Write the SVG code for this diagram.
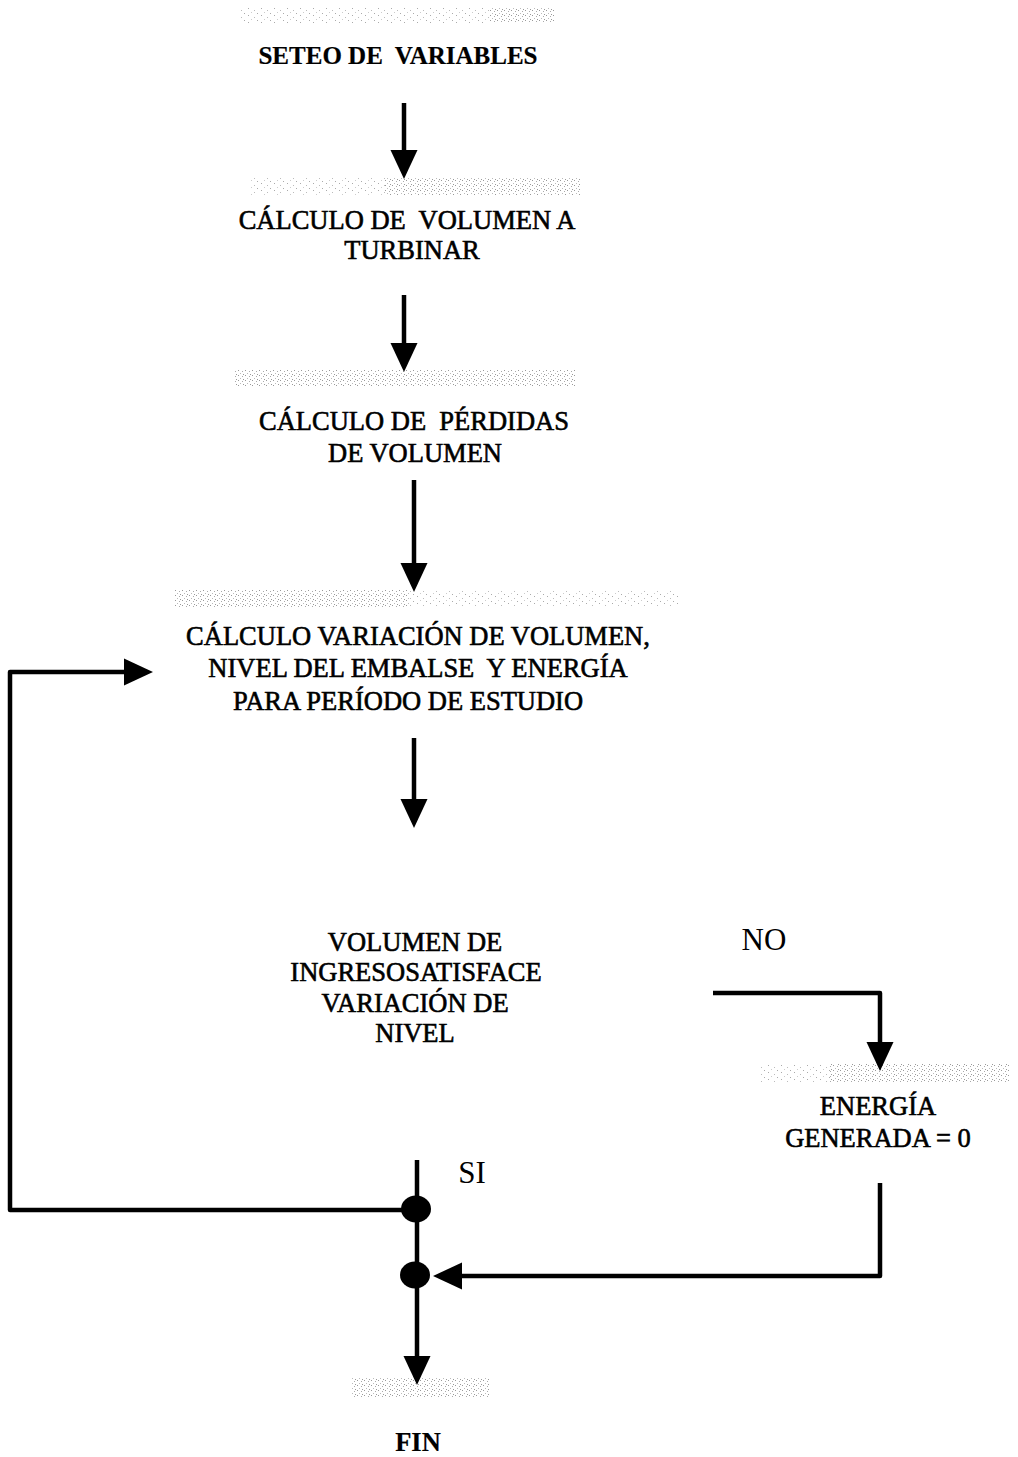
<svg xmlns="http://www.w3.org/2000/svg" width="1018" height="1457" viewBox="0 0 1018 1457">
<style>
  .t { font-family: "Liberation Serif", "Times New Roman", serif; font-size: 26.5px; fill: #000; stroke: #000; stroke-width: 0.6; text-anchor: middle; white-space: pre; }
  .b { font-weight: bold; stroke-width: 0.2; }
  .lbl { font-size: 31px; stroke-width: 0; }
  .c { fill: none; stroke: #000; stroke-width: 4.5; stroke-linejoin: round; }
  .band { fill: url(#speck); }
  .band2 { fill: url(#speck2); }
</style>
<defs>
  <marker id="ah" markerUnits="userSpaceOnUse" viewBox="0 -14 29 28" refX="0" refY="0" markerWidth="29" markerHeight="28" orient="auto">
    <path d="M0,-13.5 L29,0 L0,13.5 Z" fill="#000"/>
  </marker>
  <pattern id="speck" patternUnits="userSpaceOnUse" width="13" height="7">
    <rect x="1" y="1" width="1" height="1" fill="#aaa"/>
    <rect x="7" y="3" width="1" height="1" fill="#bbb"/>
    <rect x="10" y="6" width="1" height="1" fill="#aaa"/>
    <rect x="4" y="5" width="1" height="1" fill="#ccc"/>
  </pattern>
  <pattern id="speck2" patternUnits="userSpaceOnUse" width="7" height="5">
    <rect x="0" y="0" width="1" height="1" fill="#999"/>
    <rect x="4" y="1" width="1" height="1" fill="#aaa"/>
    <rect x="2" y="3" width="1" height="1" fill="#bbb"/>
    <rect x="5" y="4" width="1" height="1" fill="#999"/>
  </pattern>
</defs>
<rect width="1018" height="1457" fill="#fff"/>

<g id="bands">
  <rect class="band" x="240" y="8" width="250" height="15"/>
  <rect class="band2" x="490" y="8" width="65" height="15"/>
  <rect class="band" x="250" y="177" width="135" height="18"/>
  <rect class="band2" x="385" y="177" width="195" height="18"/>
  <rect class="band2" x="235" y="370" width="340" height="16"/>
  <rect class="band2" x="175" y="590" width="235" height="17"/>
  <rect class="band" x="410" y="590" width="270" height="17"/>
  <rect class="band" x="760" y="1064" width="70" height="19"/>
  <rect class="band2" x="830" y="1064" width="180" height="19"/>
  <rect class="band2" x="352" y="1377" width="138" height="20"/>
</g>

<g id="connectors">
  <path class="c" d="M404,103 V150" marker-end="url(#ah)"/>
  <path class="c" d="M404,295 V343" marker-end="url(#ah)"/>
  <path class="c" d="M414,480 V563" marker-end="url(#ah)"/>
  <path class="c" d="M414,738 V799" marker-end="url(#ah)"/>
  <path class="c" d="M417,1210 H10 V672 H124" marker-end="url(#ah)"/>
  <path class="c" d="M713,993 H880 V1042" marker-end="url(#ah)"/>
  <path class="c" d="M880,1183 V1276 H462" marker-end="url(#ah)"/>
  <path class="c" d="M417,1160 V1356" marker-end="url(#ah)"/>
  <ellipse cx="416" cy="1209" rx="15" ry="13.5" fill="#000"/>
  <ellipse cx="415" cy="1275" rx="15" ry="13.5" fill="#000"/>
  <text class="t lbl" x="764" y="950">NO</text>
  <text class="t lbl" x="472" y="1183">SI</text>
</g>

<g id="n1"><text class="t b" x="398" y="64" style="font-size:25px">SETEO DE  VARIABLES</text></g>
<g id="n2">
  <text class="t" x="407" y="229">CÁLCULO DE  VOLUMEN A</text>
  <text class="t" x="412" y="259">TURBINAR</text>
</g>
<g id="n3">
  <text class="t" x="414" y="430">CÁLCULO DE  PÉRDIDAS</text>
  <text class="t" x="415" y="462">DE VOLUMEN</text>
</g>
<g id="n4">
  <text class="t" x="418" y="645">CÁLCULO VARIACIÓN DE VOLUMEN,</text>
  <text class="t" x="418" y="677">NIVEL DEL EMBALSE  Y ENERGÍA</text>
  <text class="t" x="408" y="710">PARA PERÍODO DE ESTUDIO</text>
</g>
<g id="n5">
  <text class="t" x="415" y="951">VOLUMEN DE</text>
  <text class="t" x="416" y="981">INGRESOSATISFACE</text>
  <text class="t" x="415" y="1012">VARIACIÓN DE</text>
  <text class="t" x="415" y="1042">NIVEL</text>
</g>
<g id="n6">
  <text class="t" x="878" y="1115">ENERGÍA</text>
  <text class="t" x="878" y="1147">GENERADA = 0</text>
</g>
<g id="n7"><text class="t b" x="418" y="1451">FIN</text></g>
</svg>
